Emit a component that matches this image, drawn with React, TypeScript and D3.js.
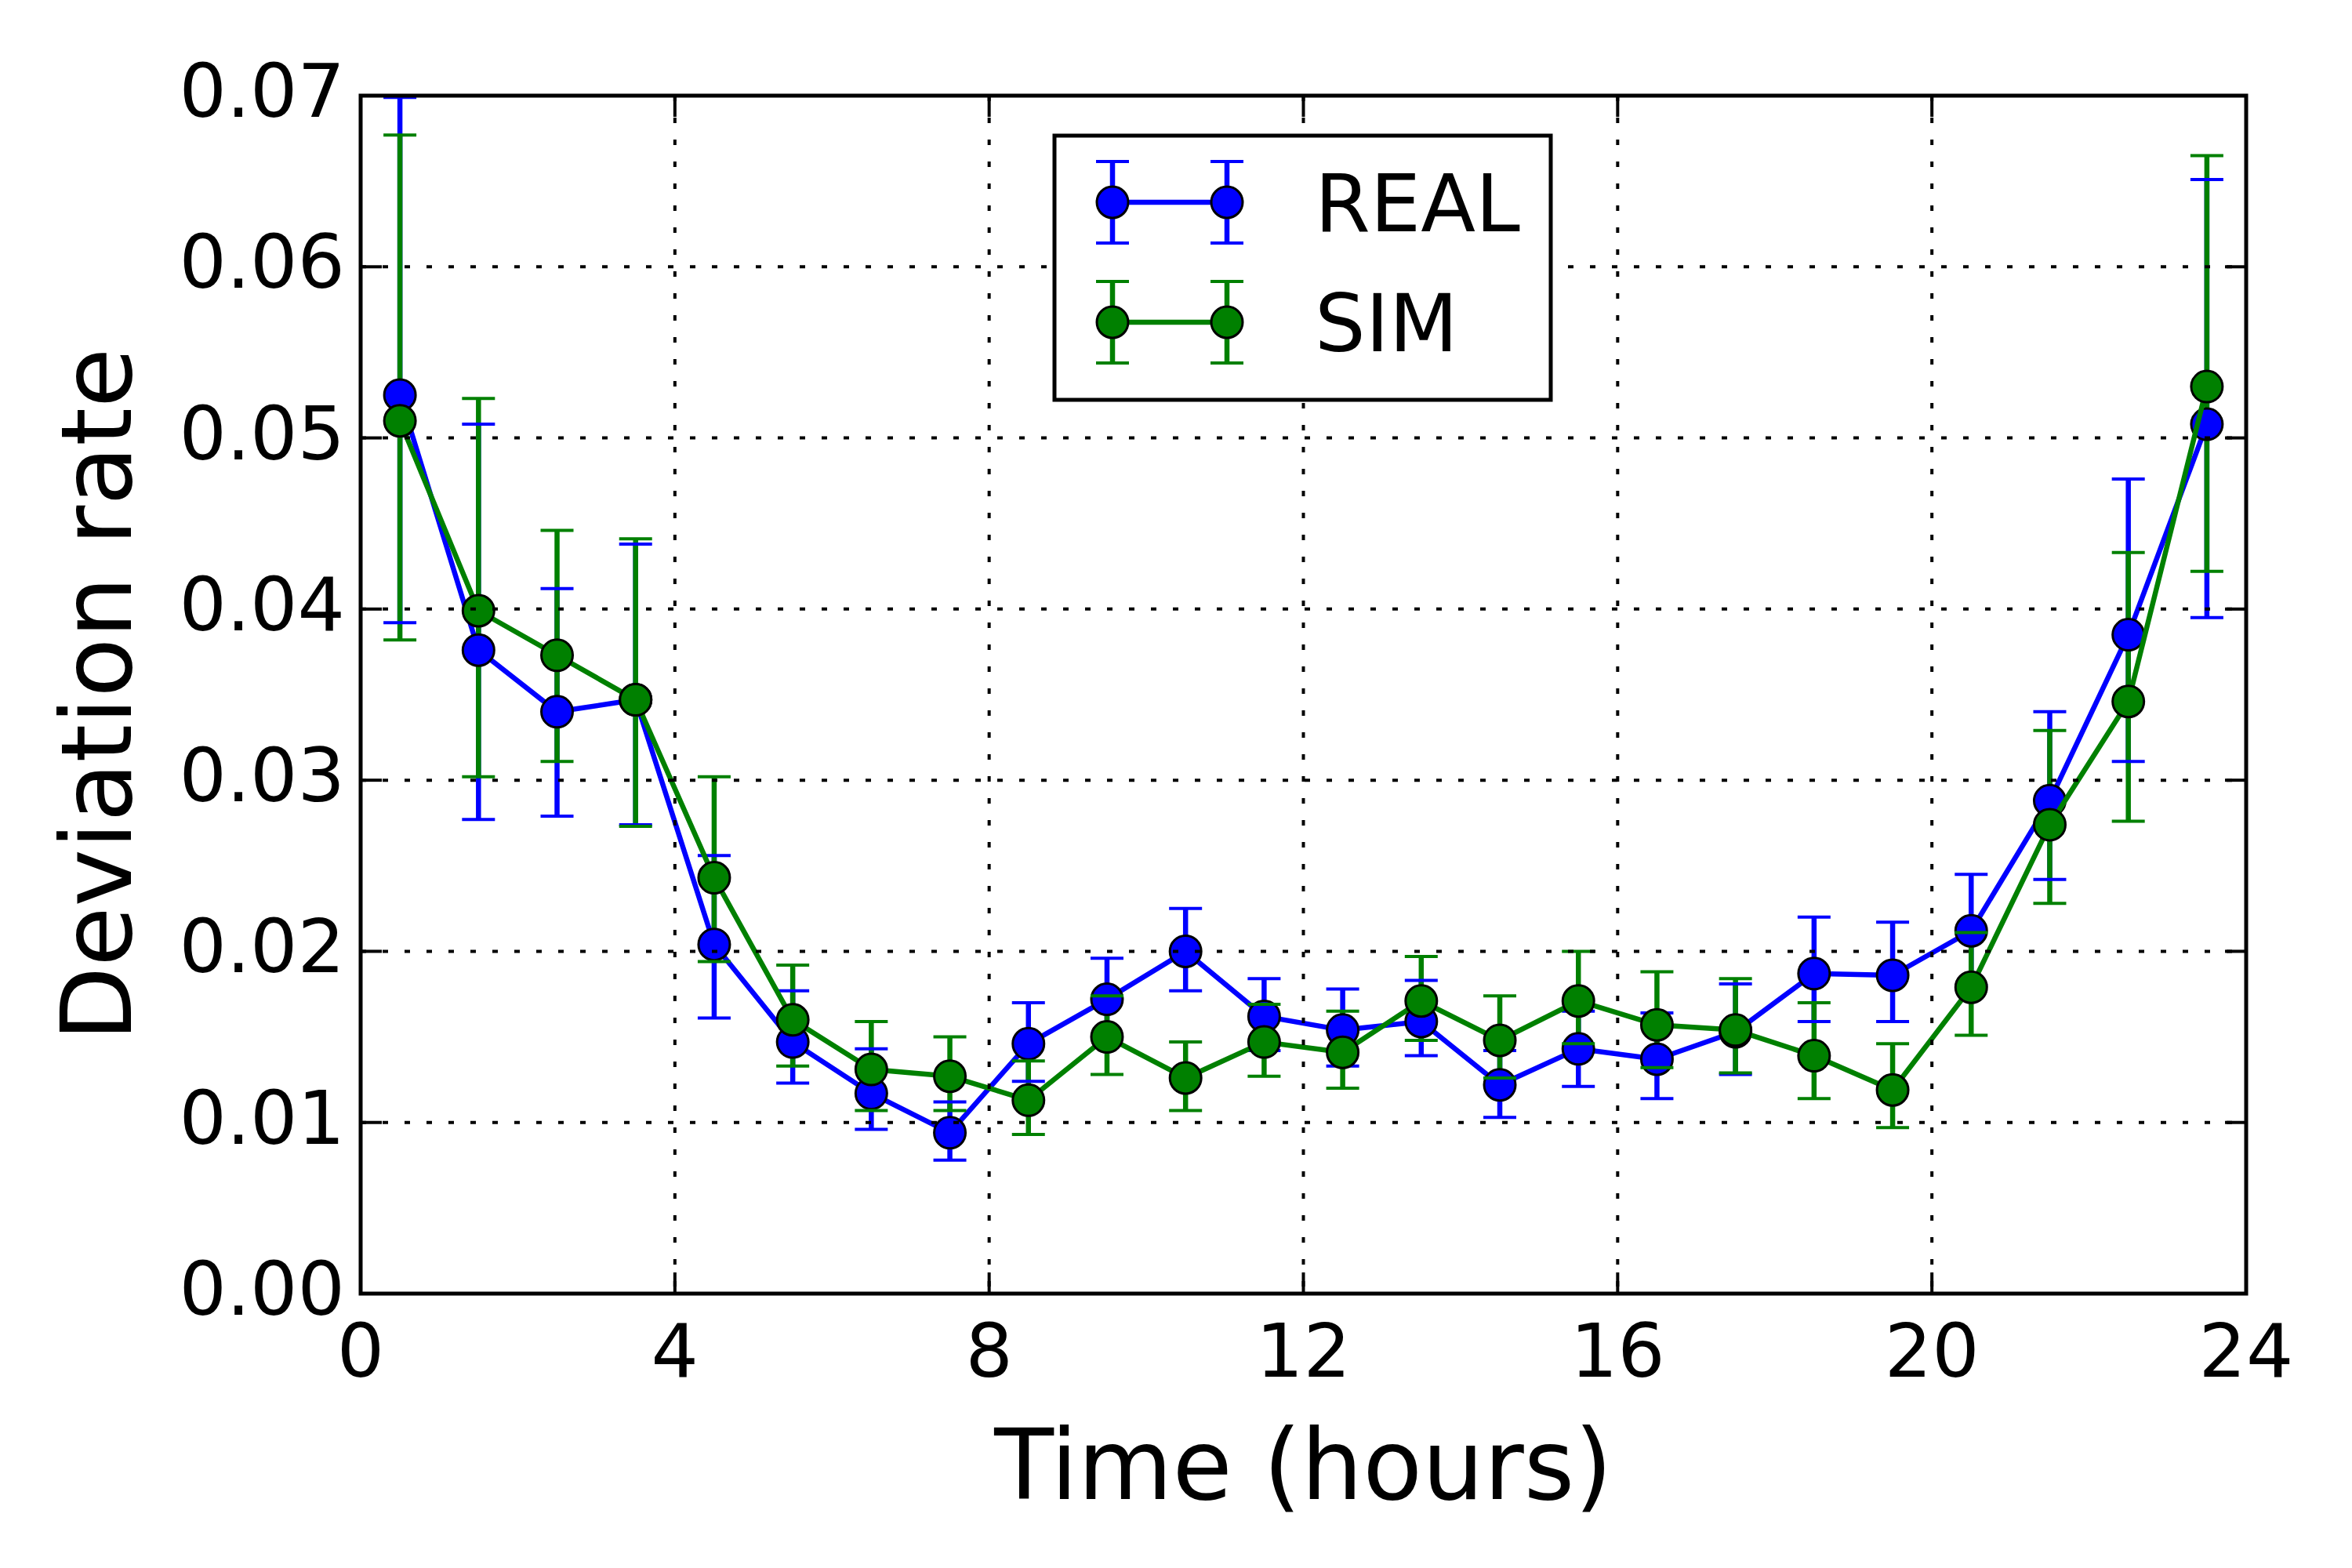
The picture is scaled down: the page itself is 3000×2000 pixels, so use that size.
import React from 'react'
import * as d3 from 'd3'

// hour-of-day bin centres
const hours = [0.5, 1.5, 2.5, 3.5, 4.5, 5.5, 6.5, 7.5, 8.5, 9.5, 10.5, 11.5, 12.5, 13.5, 14.5, 15.5, 16.5, 17.5, 18.5, 19.5, 20.5, 21.5, 22.5, 23.5]

const realMean = [0.0525, 0.0376, 0.034, 0.0347, 0.0204, 0.0147, 0.0117, 0.0094, 0.0146, 0.0172, 0.02, 0.0162, 0.0154, 0.0159, 0.0122, 0.0143, 0.0137, 0.0153, 0.0187, 0.0186, 0.0212, 0.0288, 0.0385, 0.0508]
const realLow = [0.0392, 0.0277, 0.0279, 0.0274, 0.0161, 0.0123, 0.0096, 0.0078, 0.0124, 0.015, 0.0177, 0.0142, 0.0133, 0.0139, 0.0103, 0.0121, 0.0114, 0.0128, 0.0159, 0.0159, 0.018, 0.0242, 0.0311, 0.0395]
const realHigh = [0.0699, 0.0508, 0.0412, 0.0438, 0.0256, 0.0177, 0.0143, 0.0112, 0.017, 0.0196, 0.0225, 0.0184, 0.0178, 0.0183, 0.0142, 0.0165, 0.0164, 0.0181, 0.022, 0.0217, 0.0245, 0.034, 0.0476, 0.0651]

const simMean = [0.051, 0.0399, 0.0373, 0.0347, 0.0243, 0.016, 0.0131, 0.0127, 0.0113, 0.015, 0.0126, 0.0147, 0.0141, 0.0171, 0.0148, 0.0171, 0.0157, 0.0154, 0.0139, 0.0119, 0.0179, 0.0274, 0.0346, 0.053]
const simLow = [0.0382, 0.0302, 0.0311, 0.0273, 0.0194, 0.0133, 0.0107, 0.0107, 0.0093, 0.0128, 0.0107, 0.0127, 0.012, 0.0148, 0.0126, 0.0146, 0.0132, 0.0129, 0.0114, 0.0097, 0.0151, 0.0228, 0.0276, 0.0422]
const simHigh = [0.0677, 0.0523, 0.0446, 0.0441, 0.0302, 0.0192, 0.0159, 0.015, 0.0136, 0.0174, 0.0147, 0.0169, 0.0165, 0.0197, 0.0174, 0.02, 0.0188, 0.0184, 0.017, 0.0146, 0.0211, 0.0329, 0.0433, 0.0665]

const xTicks = [0, 4, 8, 12, 16, 20, 24]
const yTicks = [0, 0.01, 0.02, 0.03, 0.04, 0.05, 0.06, 0.07]

const seriesNames = ['REAL', 'SIM']
const seriesColors = ['#0000ff', '#008000']

const W = 3000
const H = 2000
const box = { left: 460, top: 122, right: 2865, bottom: 1650 }
const font = 'DejaVu Sans, sans-serif'

const x = d3.scaleLinear().domain([0, 24]).range([box.left, box.right])
const y = d3.scaleLinear().domain([0, 0.07]).range([box.bottom, box.top])

interface IPoint {
  h: number
  m: number
  lo: number
  hi: number
}

const makeSeries = (mean: number[], lo: number[], hi: number[]): IPoint[] =>
  hours.map((h, i) => ({ h, m: mean[i], lo: lo[i], hi: hi[i] }))

const series = [
  { name: seriesNames[0], color: seriesColors[0], pts: makeSeries(realMean, realLow, realHigh) },
  { name: seriesNames[1], color: seriesColors[1], pts: makeSeries(simMean, simLow, simHigh) }
]

const line = d3
  .line<IPoint>()
  .x(d => x(d.h))
  .y(d => y(d.m))

const LW = 6.5
const CAP = 21
const R = 20
const TICK_FONT = 95

const Cap = ({ cx, cy, color }: { cx: number; cy: number; color: string }) => (
  <line x1={cx - CAP} x2={cx + CAP} y1={cy} y2={cy} stroke={color} strokeWidth={4} />
)

const App = () => {
  const legendRows = [258, 411]
  const legendXs = [1419, 1565]
  return (
    <svg width={W} height={H} style={{ position: 'absolute', left: 0, top: 0, display: 'block' }} fontFamily={font}>
      <rect x={0} y={0} width={W} height={H} fill='white' />
      <defs>
        <clipPath id='plotclip'>
          <rect x={box.left} y={box.top} width={box.right - box.left} height={box.bottom - box.top} />
        </clipPath>
      </defs>

      <g clipPath='url(#plotclip)'>
        {/* vertical error bars sit below every line */}
        {series.map(s =>
          s.pts.map((d, i) => (
            <line key={s.name + 'bar' + i} x1={x(d.h)} x2={x(d.h)} y1={y(d.lo)} y2={y(d.hi)} stroke={s.color} strokeWidth={LW} />
          ))
        )}
        {series.map(s => (
          <g key={s.name}>
            <path d={line(s.pts) || ''} fill='none' stroke={s.color} strokeWidth={LW} strokeLinejoin='round' />
            {s.pts.map((d, i) => (
              <circle key={i} cx={x(d.h)} cy={y(d.m)} r={R} fill={s.color} stroke='black' strokeWidth={3} />
            ))}
            {s.pts.map((d, i) => (
              <g key={'c' + i}>
                <Cap cx={x(d.h)} cy={y(d.lo)} color={s.color} />
                <Cap cx={x(d.h)} cy={y(d.hi)} color={s.color} />
              </g>
            ))}
          </g>
        ))}
      </g>

      {/* dotted grid, drawn above data like classic matplotlib */}
      {xTicks.slice(1, -1).map(t => (
        <line key={'gx' + t} x1={x(t)} x2={x(t)} y1={box.top} y2={box.bottom} stroke='black' strokeWidth={4} strokeDasharray='7 21' />
      ))}
      {yTicks.slice(1, -1).map(t => (
        <line key={'gy' + t} x1={box.left} x2={box.right} y1={y(t)} y2={y(t)} stroke='black' strokeWidth={4} strokeDasharray='7 21' />
      ))}

      {/* inward ticks on all four sides */}
      {xTicks.map(t => (
        <g key={'tx' + t}>
          <line x1={x(t)} x2={x(t)} y1={box.bottom} y2={box.bottom - 27} stroke='black' strokeWidth={4} />
          <line x1={x(t)} x2={x(t)} y1={box.top} y2={box.top + 27} stroke='black' strokeWidth={4} />
          <text x={x(t)} y={1756} fontSize={TICK_FONT} textAnchor='middle'>
            {t}
          </text>
        </g>
      ))}
      {yTicks.map(t => (
        <g key={'ty' + t}>
          <line x1={box.left} x2={box.left + 27} y1={y(t)} y2={y(t)} stroke='black' strokeWidth={4} />
          <line x1={box.right} x2={box.right - 27} y1={y(t)} y2={y(t)} stroke='black' strokeWidth={4} />
          <text x={440} y={y(t) + 27} fontSize={TICK_FONT} textAnchor='end'>
            {d3.format('.2f')(t)}
          </text>
        </g>
      ))}

      <rect x={box.left} y={box.top} width={box.right - box.left} height={box.bottom - box.top} fill='none' stroke='black' strokeWidth={5} />

      <text x={(box.left + box.right) / 2} y={1912} fontSize={124} textAnchor='middle'>
        Time (hours)
      </text>
      <text transform={`translate(167, ${(box.top + box.bottom) / 2}) rotate(-90)`} fontSize={124} textAnchor='middle'>
        Deviation rate
      </text>

      {/* legend */}
      <g>
        <rect x={1345} y={173} width={633} height={337} fill='white' stroke='black' strokeWidth={5} />
        {series.map((s, i) => (
          <g key={'lg' + s.name}>
            {legendXs.map(lx => (
              <g key={lx}>
                <line x1={lx} x2={lx} y1={legendRows[i] - 52} y2={legendRows[i] + 52} stroke={s.color} strokeWidth={LW} />
                <Cap cx={lx} cy={legendRows[i] - 52} color={s.color} />
                <Cap cx={lx} cy={legendRows[i] + 52} color={s.color} />
              </g>
            ))}
            <line x1={legendXs[0]} x2={legendXs[1]} y1={legendRows[i]} y2={legendRows[i]} stroke={s.color} strokeWidth={LW} />
            {legendXs.map(lx => (
              <circle key={'m' + lx} cx={lx} cy={legendRows[i]} r={R} fill={s.color} stroke='black' strokeWidth={3} />
            ))}
            <text x={1677} y={legendRows[i] + 37} fontSize={102}>
              {s.name}
            </text>
          </g>
        ))}
      </g>
    </svg>
  )
}

export default App
